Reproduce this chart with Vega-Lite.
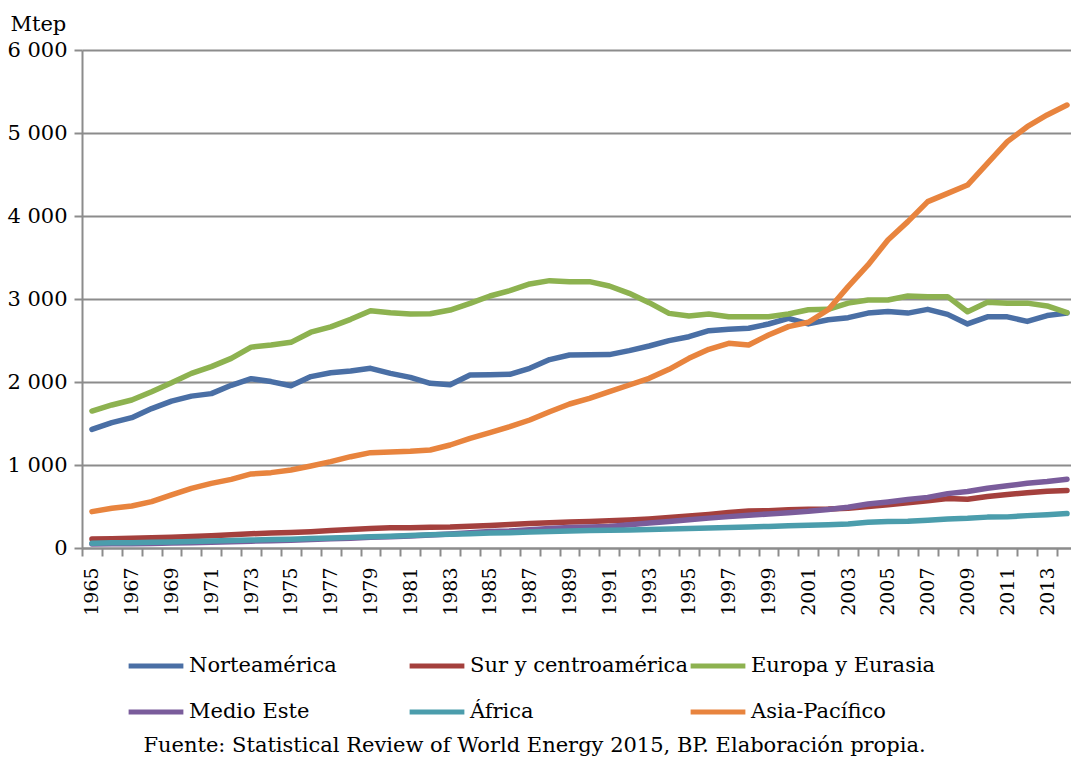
{
  "$schema": "https://vega.github.io/schema/vega-lite/v6.json",
  "autosize": {"type": "none"},
  "width": 989,
  "height": 498,
  "padding": {"left": 82, "top": 50, "right": 0, "bottom": 210},
  "background": "white",
  "config": {
    "view": {"stroke": null},
    "font": "DejaVu Serif"
  },
  "title": {
    "text": "Fuente: Statistical Review of World Energy 2015, BP. Elaboración propia.",
    "orient": "bottom",
    "anchor": "middle",
    "font": "DejaVu Serif",
    "fontSize": 21,
    "fontWeight": "normal",
    "color": "black",
    "offset": 13,
    "dx": -42
  },
  "data": {
    "values": [
      {"year":1965,"region":"Norteamérica","v":1430},{"year":1966,"region":"Norteamérica","v":1510},{"year":1967,"region":"Norteamérica","v":1570},{"year":1968,"region":"Norteamérica","v":1680},{"year":1969,"region":"Norteamérica","v":1770},{"year":1970,"region":"Norteamérica","v":1830},{"year":1971,"region":"Norteamérica","v":1860},{"year":1972,"region":"Norteamérica","v":1960},{"year":1973,"region":"Norteamérica","v":2040},{"year":1974,"region":"Norteamérica","v":2005},{"year":1975,"region":"Norteamérica","v":1955},{"year":1976,"region":"Norteamérica","v":2065},{"year":1977,"region":"Norteamérica","v":2112},{"year":1978,"region":"Norteamérica","v":2133},{"year":1979,"region":"Norteamérica","v":2165},{"year":1980,"region":"Norteamérica","v":2104},{"year":1981,"region":"Norteamérica","v":2056},{"year":1982,"region":"Norteamérica","v":1984},{"year":1983,"region":"Norteamérica","v":1968},{"year":1984,"region":"Norteamérica","v":2084},{"year":1985,"region":"Norteamérica","v":2088},{"year":1986,"region":"Norteamérica","v":2092},{"year":1987,"region":"Norteamérica","v":2165},{"year":1988,"region":"Norteamérica","v":2270},{"year":1989,"region":"Norteamérica","v":2325},{"year":1990,"region":"Norteamérica","v":2328},{"year":1991,"region":"Norteamérica","v":2330},{"year":1992,"region":"Norteamérica","v":2378},{"year":1993,"region":"Norteamérica","v":2434},{"year":1994,"region":"Norteamérica","v":2498},{"year":1995,"region":"Norteamérica","v":2546},{"year":1996,"region":"Norteamérica","v":2618},{"year":1997,"region":"Norteamérica","v":2635},{"year":1998,"region":"Norteamérica","v":2647},{"year":1999,"region":"Norteamérica","v":2699},{"year":2000,"region":"Norteamérica","v":2767},{"year":2001,"region":"Norteamérica","v":2700},{"year":2002,"region":"Norteamérica","v":2750},{"year":2003,"region":"Norteamérica","v":2775},{"year":2004,"region":"Norteamérica","v":2830},{"year":2005,"region":"Norteamérica","v":2850},{"year":2006,"region":"Norteamérica","v":2830},{"year":2007,"region":"Norteamérica","v":2875},{"year":2008,"region":"Norteamérica","v":2815},{"year":2009,"region":"Norteamérica","v":2700},{"year":2010,"region":"Norteamérica","v":2785},{"year":2011,"region":"Norteamérica","v":2785},{"year":2012,"region":"Norteamérica","v":2730},{"year":2013,"region":"Norteamérica","v":2800},{"year":2014,"region":"Norteamérica","v":2830},

      {"year":1965,"region":"Sur y centroamérica","v":108},{"year":1966,"region":"Sur y centroamérica","v":112},{"year":1967,"region":"Sur y centroamérica","v":117},{"year":1968,"region":"Sur y centroamérica","v":124},{"year":1969,"region":"Sur y centroamérica","v":131},{"year":1970,"region":"Sur y centroamérica","v":139},{"year":1971,"region":"Sur y centroamérica","v":148},{"year":1972,"region":"Sur y centroamérica","v":160},{"year":1973,"region":"Sur y centroamérica","v":172},{"year":1974,"region":"Sur y centroamérica","v":180},{"year":1975,"region":"Sur y centroamérica","v":186},{"year":1976,"region":"Sur y centroamérica","v":197},{"year":1977,"region":"Sur y centroamérica","v":210},{"year":1978,"region":"Sur y centroamérica","v":222},{"year":1979,"region":"Sur y centroamérica","v":234},{"year":1980,"region":"Sur y centroamérica","v":243},{"year":1981,"region":"Sur y centroamérica","v":245},{"year":1982,"region":"Sur y centroamérica","v":250},{"year":1983,"region":"Sur y centroamérica","v":252},{"year":1984,"region":"Sur y centroamérica","v":262},{"year":1985,"region":"Sur y centroamérica","v":270},{"year":1986,"region":"Sur y centroamérica","v":283},{"year":1987,"region":"Sur y centroamérica","v":295},{"year":1988,"region":"Sur y centroamérica","v":305},{"year":1989,"region":"Sur y centroamérica","v":312},{"year":1990,"region":"Sur y centroamérica","v":318},{"year":1991,"region":"Sur y centroamérica","v":327},{"year":1992,"region":"Sur y centroamérica","v":337},{"year":1993,"region":"Sur y centroamérica","v":350},{"year":1994,"region":"Sur y centroamérica","v":367},{"year":1995,"region":"Sur y centroamérica","v":385},{"year":1996,"region":"Sur y centroamérica","v":405},{"year":1997,"region":"Sur y centroamérica","v":428},{"year":1998,"region":"Sur y centroamérica","v":445},{"year":1999,"region":"Sur y centroamérica","v":450},{"year":2000,"region":"Sur y centroamérica","v":462},{"year":2001,"region":"Sur y centroamérica","v":468},{"year":2002,"region":"Sur y centroamérica","v":470},{"year":2003,"region":"Sur y centroamérica","v":478},{"year":2004,"region":"Sur y centroamérica","v":500},{"year":2005,"region":"Sur y centroamérica","v":520},{"year":2006,"region":"Sur y centroamérica","v":545},{"year":2007,"region":"Sur y centroamérica","v":568},{"year":2008,"region":"Sur y centroamérica","v":595},{"year":2009,"region":"Sur y centroamérica","v":588},{"year":2010,"region":"Sur y centroamérica","v":620},{"year":2011,"region":"Sur y centroamérica","v":645},{"year":2012,"region":"Sur y centroamérica","v":665},{"year":2013,"region":"Sur y centroamérica","v":685},{"year":2014,"region":"Sur y centroamérica","v":693},

      {"year":1965,"region":"Europa y Eurasia","v":1650},{"year":1966,"region":"Europa y Eurasia","v":1723},{"year":1967,"region":"Europa y Eurasia","v":1783},{"year":1968,"region":"Europa y Eurasia","v":1883},{"year":1969,"region":"Europa y Eurasia","v":1990},{"year":1970,"region":"Europa y Eurasia","v":2104},{"year":1971,"region":"Europa y Eurasia","v":2185},{"year":1972,"region":"Europa y Eurasia","v":2285},{"year":1973,"region":"Europa y Eurasia","v":2420},{"year":1974,"region":"Europa y Eurasia","v":2446},{"year":1975,"region":"Europa y Eurasia","v":2478},{"year":1976,"region":"Europa y Eurasia","v":2600},{"year":1977,"region":"Europa y Eurasia","v":2665},{"year":1978,"region":"Europa y Eurasia","v":2755},{"year":1979,"region":"Europa y Eurasia","v":2859},{"year":1980,"region":"Europa y Eurasia","v":2835},{"year":1981,"region":"Europa y Eurasia","v":2819},{"year":1982,"region":"Europa y Eurasia","v":2822},{"year":1983,"region":"Europa y Eurasia","v":2867},{"year":1984,"region":"Europa y Eurasia","v":2948},{"year":1985,"region":"Europa y Eurasia","v":3036},{"year":1986,"region":"Europa y Eurasia","v":3100},{"year":1987,"region":"Europa y Eurasia","v":3181},{"year":1988,"region":"Europa y Eurasia","v":3221},{"year":1989,"region":"Europa y Eurasia","v":3207},{"year":1990,"region":"Europa y Eurasia","v":3209},{"year":1991,"region":"Europa y Eurasia","v":3157},{"year":1992,"region":"Europa y Eurasia","v":3068},{"year":1993,"region":"Europa y Eurasia","v":2956},{"year":1994,"region":"Europa y Eurasia","v":2827},{"year":1995,"region":"Europa y Eurasia","v":2795},{"year":1996,"region":"Europa y Eurasia","v":2819},{"year":1997,"region":"Europa y Eurasia","v":2787},{"year":1998,"region":"Europa y Eurasia","v":2787},{"year":1999,"region":"Europa y Eurasia","v":2787},{"year":2000,"region":"Europa y Eurasia","v":2820},{"year":2001,"region":"Europa y Eurasia","v":2870},{"year":2002,"region":"Europa y Eurasia","v":2876},{"year":2003,"region":"Europa y Eurasia","v":2950},{"year":2004,"region":"Europa y Eurasia","v":2988},{"year":2005,"region":"Europa y Eurasia","v":2988},{"year":2006,"region":"Europa y Eurasia","v":3036},{"year":2007,"region":"Europa y Eurasia","v":3028},{"year":2008,"region":"Europa y Eurasia","v":3028},{"year":2009,"region":"Europa y Eurasia","v":2847},{"year":2010,"region":"Europa y Eurasia","v":2962},{"year":2011,"region":"Europa y Eurasia","v":2950},{"year":2012,"region":"Europa y Eurasia","v":2950},{"year":2013,"region":"Europa y Eurasia","v":2916},{"year":2014,"region":"Europa y Eurasia","v":2835},

      {"year":1965,"region":"Medio Este","v":48},{"year":1966,"region":"Medio Este","v":50},{"year":1967,"region":"Medio Este","v":52},{"year":1968,"region":"Medio Este","v":55},{"year":1969,"region":"Medio Este","v":60},{"year":1970,"region":"Medio Este","v":64},{"year":1971,"region":"Medio Este","v":70},{"year":1972,"region":"Medio Este","v":76},{"year":1973,"region":"Medio Este","v":82},{"year":1974,"region":"Medio Este","v":88},{"year":1975,"region":"Medio Este","v":93},{"year":1976,"region":"Medio Este","v":103},{"year":1977,"region":"Medio Este","v":110},{"year":1978,"region":"Medio Este","v":117},{"year":1979,"region":"Medio Este","v":130},{"year":1980,"region":"Medio Este","v":135},{"year":1981,"region":"Medio Este","v":145},{"year":1982,"region":"Medio Este","v":158},{"year":1983,"region":"Medio Este","v":170},{"year":1984,"region":"Medio Este","v":185},{"year":1985,"region":"Medio Este","v":198},{"year":1986,"region":"Medio Este","v":205},{"year":1987,"region":"Medio Este","v":220},{"year":1988,"region":"Medio Este","v":235},{"year":1989,"region":"Medio Este","v":248},{"year":1990,"region":"Medio Este","v":252},{"year":1991,"region":"Medio Este","v":258},{"year":1992,"region":"Medio Este","v":280},{"year":1993,"region":"Medio Este","v":300},{"year":1994,"region":"Medio Este","v":320},{"year":1995,"region":"Medio Este","v":340},{"year":1996,"region":"Medio Este","v":360},{"year":1997,"region":"Medio Este","v":378},{"year":1998,"region":"Medio Este","v":395},{"year":1999,"region":"Medio Este","v":410},{"year":2000,"region":"Medio Este","v":425},{"year":2001,"region":"Medio Este","v":442},{"year":2002,"region":"Medio Este","v":465},{"year":2003,"region":"Medio Este","v":490},{"year":2004,"region":"Medio Este","v":530},{"year":2005,"region":"Medio Este","v":555},{"year":2006,"region":"Medio Este","v":585},{"year":2007,"region":"Medio Este","v":610},{"year":2008,"region":"Medio Este","v":655},{"year":2009,"region":"Medio Este","v":680},{"year":2010,"region":"Medio Este","v":720},{"year":2011,"region":"Medio Este","v":750},{"year":2012,"region":"Medio Este","v":780},{"year":2013,"region":"Medio Este","v":800},{"year":2014,"region":"Medio Este","v":828},

      {"year":1965,"region":"África","v":58},{"year":1966,"region":"África","v":62},{"year":1967,"region":"África","v":64},{"year":1968,"region":"África","v":68},{"year":1969,"region":"África","v":72},{"year":1970,"region":"África","v":78},{"year":1971,"region":"África","v":84},{"year":1972,"region":"África","v":90},{"year":1973,"region":"África","v":96},{"year":1974,"region":"África","v":101},{"year":1975,"region":"África","v":106},{"year":1976,"region":"África","v":114},{"year":1977,"region":"África","v":121},{"year":1978,"region":"África","v":128},{"year":1979,"region":"África","v":136},{"year":1980,"region":"África","v":142},{"year":1981,"region":"África","v":152},{"year":1982,"region":"África","v":160},{"year":1983,"region":"África","v":165},{"year":1984,"region":"África","v":172},{"year":1985,"region":"África","v":180},{"year":1986,"region":"África","v":185},{"year":1987,"region":"África","v":192},{"year":1988,"region":"África","v":200},{"year":1989,"region":"África","v":205},{"year":1990,"region":"África","v":210},{"year":1991,"region":"África","v":214},{"year":1992,"region":"África","v":218},{"year":1993,"region":"África","v":222},{"year":1994,"region":"África","v":230},{"year":1995,"region":"África","v":236},{"year":1996,"region":"África","v":242},{"year":1997,"region":"África","v":248},{"year":1998,"region":"África","v":254},{"year":1999,"region":"África","v":260},{"year":2000,"region":"África","v":268},{"year":2001,"region":"África","v":274},{"year":2002,"region":"África","v":280},{"year":2003,"region":"África","v":290},{"year":2004,"region":"África","v":310},{"year":2005,"region":"África","v":318},{"year":2006,"region":"África","v":322},{"year":2007,"region":"África","v":335},{"year":2008,"region":"África","v":350},{"year":2009,"region":"África","v":358},{"year":2010,"region":"África","v":372},{"year":2011,"region":"África","v":375},{"year":2012,"region":"África","v":390},{"year":2013,"region":"África","v":402},{"year":2014,"region":"África","v":415},

      {"year":1965,"region":"Asia-Pacífico","v":438},{"year":1966,"region":"Asia-Pacífico","v":478},{"year":1967,"region":"Asia-Pacífico","v":506},{"year":1968,"region":"Asia-Pacífico","v":558},{"year":1969,"region":"Asia-Pacífico","v":639},{"year":1970,"region":"Asia-Pacífico","v":719},{"year":1971,"region":"Asia-Pacífico","v":779},{"year":1972,"region":"Asia-Pacífico","v":827},{"year":1973,"region":"Asia-Pacífico","v":892},{"year":1974,"region":"Asia-Pacífico","v":908},{"year":1975,"region":"Asia-Pacífico","v":940},{"year":1976,"region":"Asia-Pacífico","v":988},{"year":1977,"region":"Asia-Pacífico","v":1040},{"year":1978,"region":"Asia-Pacífico","v":1100},{"year":1979,"region":"Asia-Pacífico","v":1149},{"year":1980,"region":"Asia-Pacífico","v":1157},{"year":1981,"region":"Asia-Pacífico","v":1165},{"year":1982,"region":"Asia-Pacífico","v":1181},{"year":1983,"region":"Asia-Pacífico","v":1241},{"year":1984,"region":"Asia-Pacífico","v":1321},{"year":1985,"region":"Asia-Pacífico","v":1389},{"year":1986,"region":"Asia-Pacífico","v":1462},{"year":1987,"region":"Asia-Pacífico","v":1542},{"year":1988,"region":"Asia-Pacífico","v":1642},{"year":1989,"region":"Asia-Pacífico","v":1735},{"year":1990,"region":"Asia-Pacífico","v":1803},{"year":1991,"region":"Asia-Pacífico","v":1884},{"year":1992,"region":"Asia-Pacífico","v":1964},{"year":1993,"region":"Asia-Pacífico","v":2044},{"year":1994,"region":"Asia-Pacífico","v":2153},{"year":1995,"region":"Asia-Pacífico","v":2285},{"year":1996,"region":"Asia-Pacífico","v":2394},{"year":1997,"region":"Asia-Pacífico","v":2466},{"year":1998,"region":"Asia-Pacífico","v":2446},{"year":1999,"region":"Asia-Pacífico","v":2566},{"year":2000,"region":"Asia-Pacífico","v":2667},{"year":2001,"region":"Asia-Pacífico","v":2720},{"year":2002,"region":"Asia-Pacífico","v":2870},{"year":2003,"region":"Asia-Pacífico","v":3149},{"year":2004,"region":"Asia-Pacífico","v":3410},{"year":2005,"region":"Asia-Pacífico","v":3711},{"year":2006,"region":"Asia-Pacífico","v":3932},{"year":2007,"region":"Asia-Pacífico","v":4173},{"year":2008,"region":"Asia-Pacífico","v":4273},{"year":2009,"region":"Asia-Pacífico","v":4373},{"year":2010,"region":"Asia-Pacífico","v":4635},{"year":2011,"region":"Asia-Pacífico","v":4896},{"year":2012,"region":"Asia-Pacífico","v":5076},{"year":2013,"region":"Asia-Pacífico","v":5217},{"year":2014,"region":"Asia-Pacífico","v":5337}
    ]
  },
  "mark": {"type": "line", "strokeWidth": 5.5, "strokeCap": "round", "strokeJoin": "round"},
  "encoding": {
    "x": {
      "field": "year",
      "type": "quantitative",
      "scale": {"domain": [1964.5, 2014.2], "nice": false, "zero": false},
      "axis": {
        "title": null,
        "grid": false,
        "values": [1964.5,1965,1965.5,1966.5,1967,1967.5,1968.5,1969,1969.5,1970.5,1971,1971.5,1972.5,1973,1973.5,1974.5,1975,1975.5,1976.5,1977,1977.5,1978.5,1979,1979.5,1980.5,1981,1981.5,1982.5,1983,1983.5,1984.5,1985,1985.5,1986.5,1987,1987.5,1988.5,1989,1989.5,1990.5,1991,1991.5,1992.5,1993,1993.5,1994.5,1995,1995.5,1996.5,1997,1997.5,1998.5,1999,1999.5,2000.5,2001,2001.5,2002.5,2003,2003.5,2004.5,2005,2005.5,2006.5,2007,2007.5,2008.5,2009,2009.5,2010.5,2011,2011.5,2012.5,2013,2013.5],
        "labelExpr": "datum.value % 1 == 0 ? format(datum.value, 'd') : ''",
        "tickOpacity": {"condition": {"test": "datum.value % 1 == 0", "value": 0}, "value": 1},
        "labelOverlap": false,
        "labelFlush": false,
        "labelAngle": 270,
        "labelFont": "DejaVu Serif",
        "labelFontSize": 19,
        "labelColor": "black",
        "labelPadding": 11,
        "tickSize": 8,
        "tickColor": "#8c8c8c",
        "tickWidth": 2,
        "domainColor": "#8c8c8c",
        "domainWidth": 2
      }
    },
    "y": {
      "field": "v",
      "type": "quantitative",
      "scale": {"domain": [0, 6000], "nice": false},
      "axis": {
        "title": "Mtep",
        "titleAngle": 0,
        "titleAlign": "left",
        "titleBaseline": "alphabetic",
        "titleX": -72,
        "titleY": -20,
        "titleFont": "DejaVu Serif",
        "titleFontSize": 21,
        "titleFontWeight": "normal",
        "titleColor": "black",
        "values": [0, 1000, 2000, 3000, 4000, 5000, 6000],
        "labelExpr": "replace(format(datum.value, ','), ',', ' ')",
        "labelFont": "DejaVu Serif",
        "labelFontSize": 21,
        "labelColor": "black",
        "labelPadding": 7,
        "tickSize": 8,
        "tickColor": "#8c8c8c",
        "tickWidth": 2,
        "domainColor": "#8c8c8c",
        "domainWidth": 2,
        "grid": true,
        "gridColor": "#8c8c8c",
        "gridWidth": 2
      }
    },
    "color": {
      "field": "region",
      "type": "nominal",
      "scale": {
        "domain": ["Norteamérica", "Sur y centroamérica", "Europa y Eurasia", "Medio Este", "África", "Asia-Pacífico"],
        "range": ["#4a6fa5", "#a4403d", "#8db250", "#7a5c9b", "#4b9dac", "#e8843e"]
      },
      "legend": {
        "title": null,
        "orient": "none",
        "legendX": 44,
        "legendY": 586,
        "direction": "horizontal",
        "columns": 3,
        "gridAlign": "all",
        "columnPadding": -13,
        "rowPadding": 6,
        "symbolType": "stroke",
        "symbolSize": 3000,
        "symbolStrokeWidth": 5,
        "labelFont": "DejaVu Serif",
        "labelFontSize": 21,
        "labelColor": "black",
        "labelOffset": 3,
        "labelLimit": 400
      }
    }
  }
}
